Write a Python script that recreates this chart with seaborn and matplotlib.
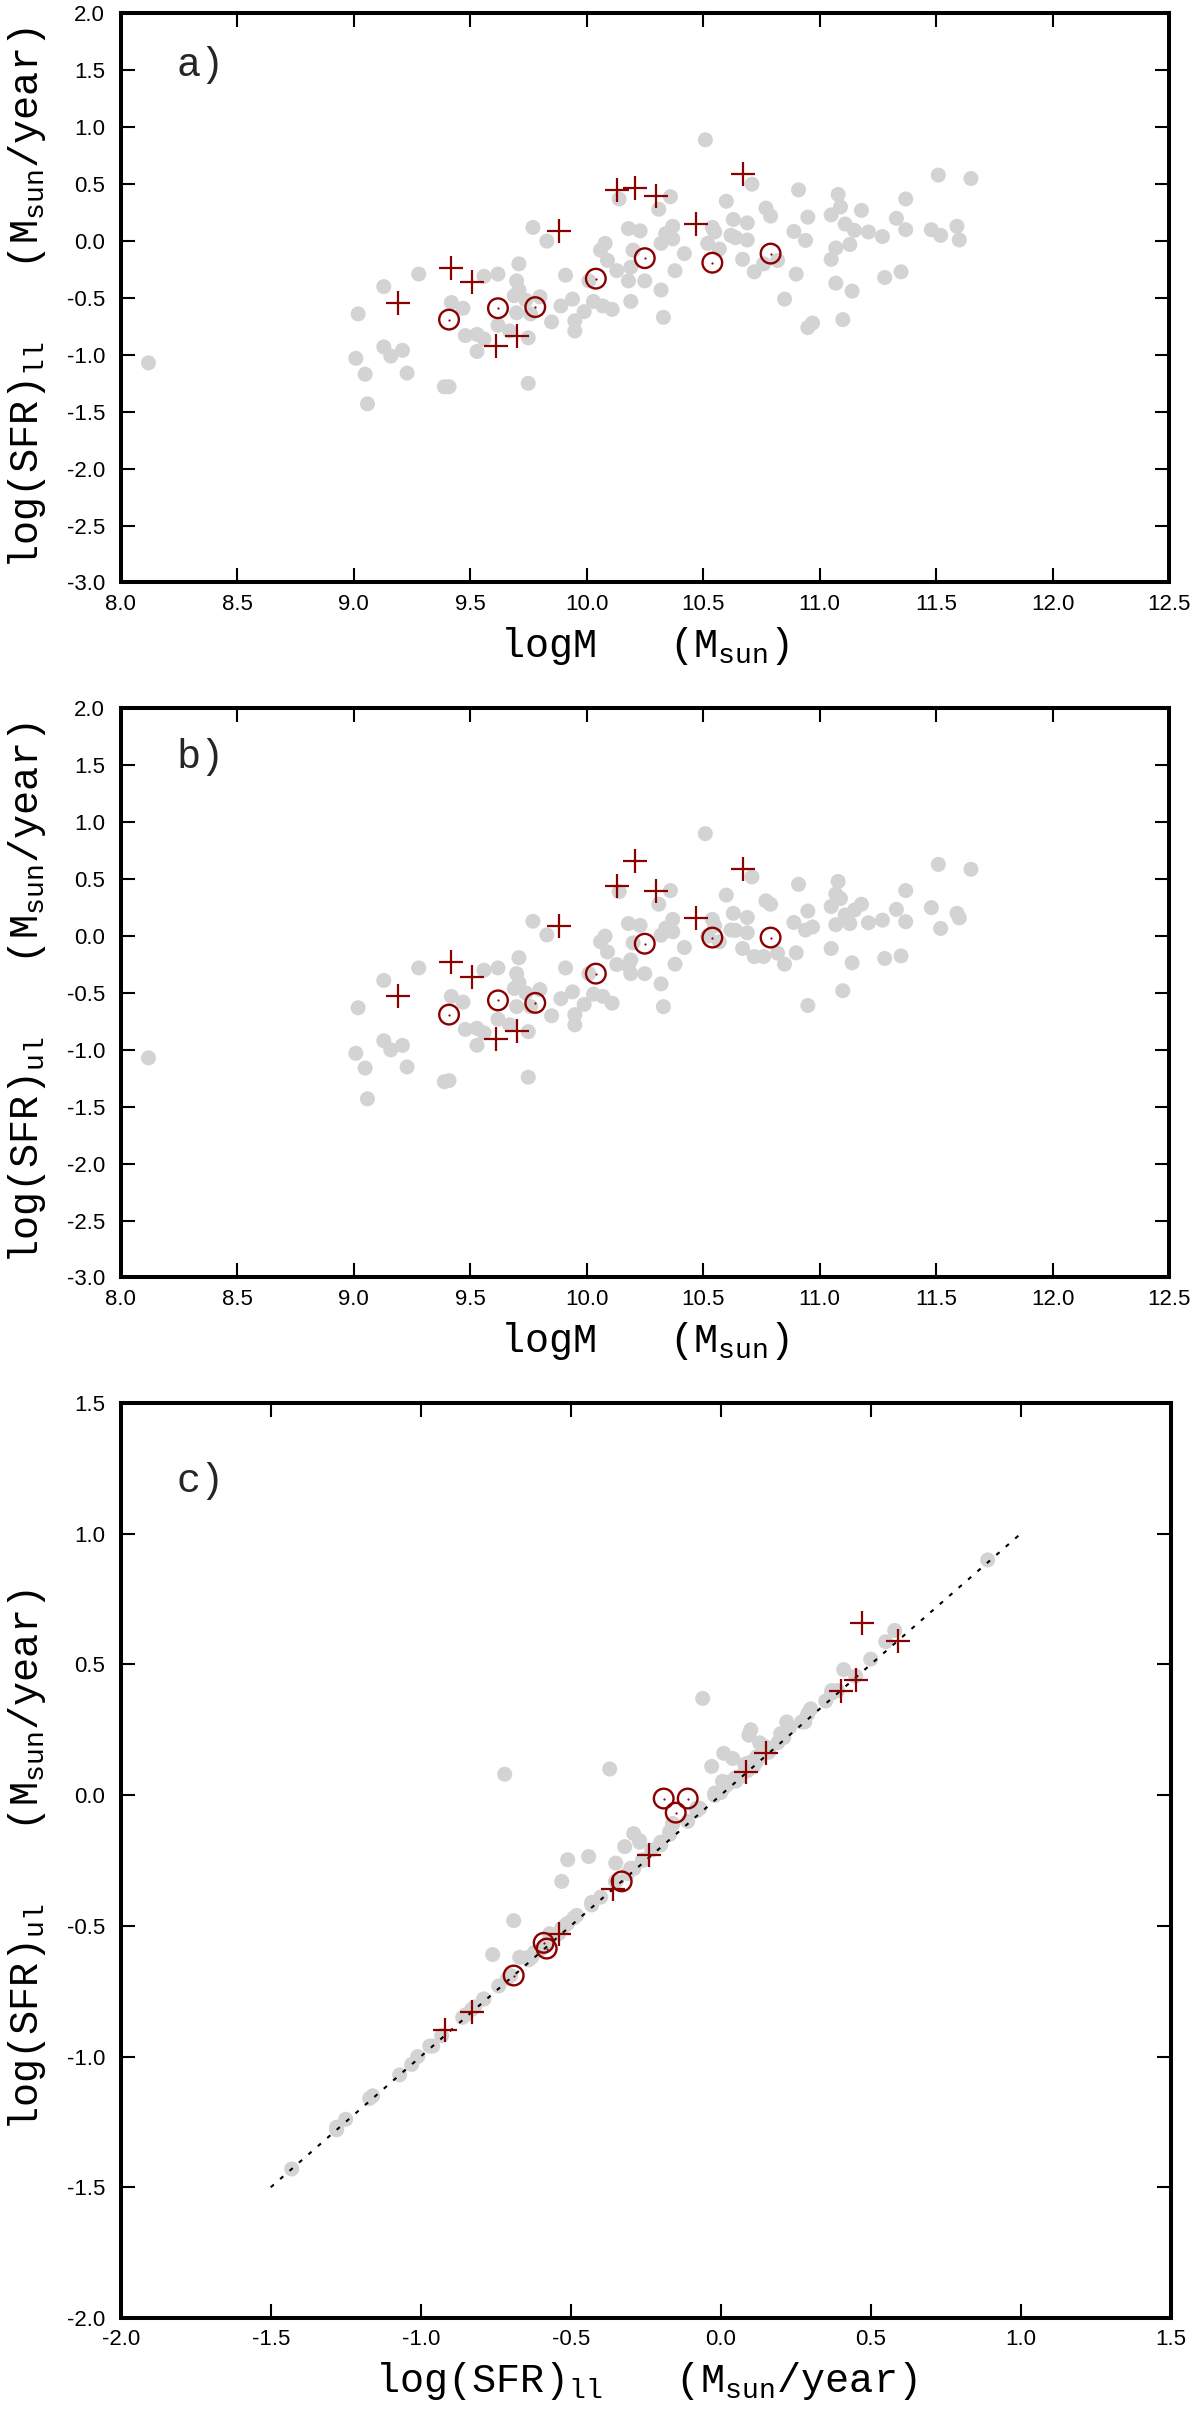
import matplotlib
matplotlib.use("Agg")
import matplotlib.pyplot as plt
import seaborn as sns
import numpy as np
from matplotlib.ticker import FormatStrFormatter, MultipleLocator

# ---------------- data ----------------
logM = [8.12, 9.02, 9.13, 9.28, 9.01, 9.13, 9.16, 9.21, 9.05, 9.23,
        9.39, 9.41, 9.75, 9.06, 9.42, 9.47, 9.56, 9.62, 9.71, 9.70,
        9.77, 9.83, 9.91, 9.48, 9.53, 9.56, 9.53, 9.62, 9.67, 9.75,
        9.71, 9.69, 9.80, 9.70, 9.76, 9.85, 9.95, 9.95, 9.89, 9.94,
        9.99, 10.03, 10.06, 9.74, 10.07, 10.11, 10.08, 10.09, 10.13, 10.18,
        10.14, 10.20, 10.18, 10.19, 10.01, 10.51, 10.71, 10.36, 10.31, 10.60,
        10.91, 11.08, 11.09, 11.05, 11.18, 10.77, 10.79, 10.95, 10.63, 10.69,
        10.37, 10.54, 10.23, 10.55, 10.62, 10.34, 10.32, 10.37, 10.52, 10.57,
        10.64, 10.69, 10.89, 10.94, 11.11, 11.15, 11.07, 11.13, 11.05, 10.42,
        10.38, 10.25, 10.19, 10.32, 10.33, 10.67, 10.72, 10.76, 10.82, 10.90,
        11.07, 11.14, 10.85, 10.97, 10.95, 11.10, 11.51, 11.65, 11.37, 11.33,
        11.37, 11.48, 11.52, 11.59, 11.60, 11.28, 11.35, 11.27, 11.21]
sfr_ll = [-1.07, -0.64, -0.40, -0.29, -1.03, -0.93, -1.01, -0.96, -1.17, -1.16,
          -1.28, -1.28, -1.25, -1.43, -0.54, -0.59, -0.31, -0.29, -0.20, -0.35,
          0.12, 0.00, -0.30, -0.83, -0.82, -0.86, -0.97, -0.74, -0.79, -0.85,
          -0.43, -0.48, -0.49, -0.63, -0.64, -0.71, -0.70, -0.79, -0.57, -0.51,
          -0.62, -0.53, -0.08, -0.52, -0.57, -0.60, -0.02, -0.17, -0.26, 0.11,
          0.37, -0.08, -0.35, -0.53, -0.35, 0.89, 0.50, 0.39, 0.28, 0.35,
          0.45, 0.41, 0.30, 0.23, 0.27, 0.29, 0.22, 0.21, 0.19, 0.16,
          0.13, 0.12, 0.09, 0.08, 0.05, 0.065, -0.02, 0.02, -0.02, -0.07,
          0.03, 0.01, 0.085, 0.006, 0.15, 0.094, -0.06, -0.03, -0.16, -0.11,
          -0.26, -0.35, -0.23, -0.43, -0.67, -0.16, -0.27, -0.20, -0.17, -0.29,
          -0.37, -0.44, -0.51, -0.72, -0.76, -0.69, 0.58, 0.55, 0.37, 0.20,
          0.10, 0.10, 0.05, 0.13, 0.01, -0.32, -0.27, 0.04, 0.08]
sfr_ul = [-1.07, -0.63, -0.39, -0.28, -1.03, -0.92, -1.00, -0.96, -1.16, -1.15,
          -1.28, -1.27, -1.24, -1.43, -0.53, -0.58, -0.30, -0.28, -0.19, -0.33,
          0.13, 0.01, -0.28, -0.82, -0.81, -0.85, -0.96, -0.73, -0.78, -0.84,
          -0.41, -0.46, -0.47, -0.62, -0.62, -0.70, -0.69, -0.78, -0.55, -0.49,
          -0.60, -0.51, -0.05, -0.50, -0.53, -0.59, 0.00, -0.14, -0.25, 0.11,
          0.39, -0.06, -0.26, -0.33, -0.33, 0.90, 0.52, 0.40, 0.28, 0.36,
          0.455, 0.48, 0.33, 0.26, 0.28, 0.31, 0.28, 0.22, 0.20, 0.164,
          0.147, 0.147, 0.094, 0.09, 0.053, 0.07, 0.008, 0.038, 0.00, -0.05,
          0.05, 0.029, 0.12, 0.053, 0.185, 0.229, 0.37, 0.11, -0.109, -0.10,
          -0.247, -0.33, -0.21, -0.42, -0.62, -0.109, -0.18, -0.18, -0.15, -0.147,
          0.10, -0.235, -0.247, 0.08, -0.61, -0.48, 0.63, 0.587, 0.40, 0.235,
          0.126, 0.25, 0.067, 0.20, 0.16, -0.197, -0.174, 0.14, 0.117]

plus_logM = [9.19, 9.42, 9.51, 9.61, 9.70, 9.88, 10.13, 10.21, 10.30, 10.47, 10.67]
plus_ll = [-0.54, -0.24, -0.36, -0.92, -0.83, 0.085, 0.45, 0.47, 0.40, 0.15, 0.59]
plus_ul = [-0.53, -0.23, -0.36, -0.90, -0.83, 0.09, 0.44, 0.66, 0.40, 0.16, 0.59]

circ_logM = [9.41, 9.62, 9.78, 10.04, 10.25, 10.54, 10.79]
circ_ll = [-0.69, -0.59, -0.58, -0.33, -0.15, -0.19, -0.11]
circ_ul = [-0.69, -0.565, -0.587, -0.33, -0.067, -0.013, -0.013]

one_to_one = [-1.5, 1.0]

xticks_m = [8.0, 8.5, 9.0, 9.5, 10.0, 10.5, 11.0, 11.5, 12.0, 12.5]
yticks_m = [-3.0, -2.5, -2.0, -1.5, -1.0, -0.5, 0.0, 0.5, 1.0, 1.5, 2.0]
ticks_c = [-2.0, -1.5, -1.0, -0.5, 0.0, 0.5, 1.0, 1.5]

# ---------------- style ----------------
sns.set_theme(style="ticks")
plt.rcParams["font.family"] = ["Liberation Sans", "DejaVu Sans"]
plt.rcParams["axes.unicode_minus"] = False
plt.rcParams["mathtext.fontset"] = "custom"
plt.rcParams["mathtext.rm"] = "Liberation Mono"
plt.rcParams["mathtext.it"] = "Liberation Mono"
plt.rcParams["mathtext.bf"] = "Liberation Mono"

GREY = "#D3D3D3"
RED = "#8B0000"
LABEL_FONT = dict(family=["Liberation Mono", "DejaVu Sans Mono"], size=29, color="black")

fig = plt.figure(figsize=(12, 24.13), dpi=100)
ax_a = fig.add_axes([0.10042, 0.75860, 0.87375, 0.23581])
ax_b = fig.add_axes([0.10042, 0.47058, 0.87375, 0.23581])
ax_c = fig.add_axes([0.10058, 0.03937, 0.87500, 0.37920])


def style_axes(ax, xt, yt, xlabel, ylabel, panel, xlab_off, panel_y):
    ax.set_xlim(xt[0], xt[-1])
    ax.set_ylim(yt[0], yt[-1])
    ax.set_xticks(xt)
    ax.set_yticks(yt)
    ax.xaxis.set_major_formatter(FormatStrFormatter("%.1f"))
    ax.yaxis.set_major_formatter(FormatStrFormatter("%.1f"))
    for sp in ax.spines.values():
        sp.set_visible(True)
        sp.set_linewidth(2.9)
        sp.set_color("black")
    ax.tick_params(axis="both", which="major", direction="in", length=10, width=1.5,
                   color="black", top=True, right=True, labelsize=16, labelcolor="black")
    ax.tick_params(axis="x", pad=8)
    ax.tick_params(axis="y", pad=11)
    ax.minorticks_off()
    ax.grid(False)
    ax.set_facecolor("white")
    ax.set_xlabel(xlabel, fontdict=LABEL_FONT)
    ax.set_ylabel(ylabel, fontdict=LABEL_FONT)
    ax.xaxis.set_label_coords(0.5, xlab_off)
    ax.yaxis.set_label_coords(-0.069, 0.5)
    ax.text(0.053, panel_y, panel, transform=ax.transAxes, ha="left", va="baseline",
            **{"family": ["Liberation Mono", "DejaVu Sans Mono"], "size": 29})


def draw_markers(ax, xg, yg, xp, yp, xc, yc):
    sns.scatterplot(x=xg, y=yg, ax=ax, color=GREY, s=117, linewidth=0,
                    edgecolor="none", zorder=2, legend=False)
    sns.scatterplot(x=xp, y=yp, ax=ax, marker="+", color=RED, s=300,
                    linewidth=1.6, zorder=5, legend=False)
    ax.scatter(xc, yc, marker="o", s=200, facecolors="none", edgecolors=RED,
               linewidths=1.7, zorder=5)
    ax.scatter(xc, yc, marker="o", s=2.5, color=RED, linewidths=0, zorder=6)


label_M = r"logM   (M$_{\mathrm{sun}}$)"
label_ll = r"log(SFR)$_{\mathrm{ll}}$   (M$_{\mathrm{sun}}$/year)"
label_ul = r"log(SFR)$_{\mathrm{ul}}$   (M$_{\mathrm{sun}}$/year)"

# panel a
draw_markers(ax_a, logM, sfr_ll, plus_logM, plus_ll, circ_logM, circ_ll)
style_axes(ax_a, xticks_m, yticks_m, label_M, label_ll, "a)", -0.074, 0.89)

# panel b
draw_markers(ax_b, logM, sfr_ul, plus_logM, plus_ul, circ_logM, circ_ul)
style_axes(ax_b, xticks_m, yticks_m, label_M, label_ul, "b)", -0.074, 0.896)

# panel c
sns.lineplot(x=one_to_one, y=one_to_one, ax=ax_c, color="black", linewidth=1.5,
             linestyle=(0, (2, 4)), zorder=3, legend=False)
draw_markers(ax_c, sfr_ll, sfr_ul, plus_ll, plus_ul, circ_ll, circ_ul)
style_axes(ax_c, ticks_c, ticks_c, label_ll, label_ul, "c)", -0.046, 0.903)

fig.savefig("out.png", dpi=100, facecolor="white")
